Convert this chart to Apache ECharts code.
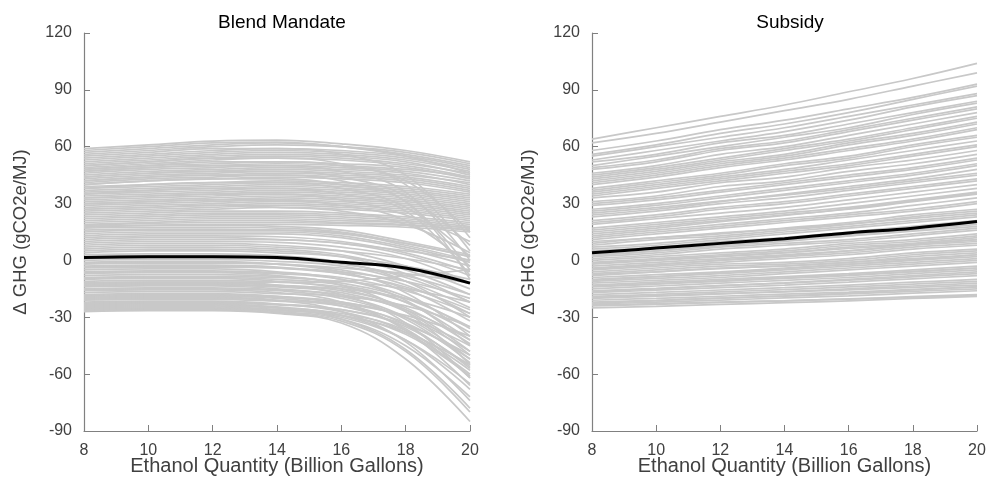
<!DOCTYPE html>
<html>
<head>
<meta charset="utf-8">
<script src="https://cdn.jsdelivr.net/npm/echarts@6/dist/echarts.min.js"></script>
<style>
html,body{margin:0;padding:0;background:#fff;}
#chart{width:992px;height:479px;}
</style>
</head>
<body>
<div id="chart"></div>
<script>
// Ethanol quantity (billion gallons) sample points
var xValues = [8, 10, 12, 14, 16, 18, 20];
var xTicks = [8, 10, 12, 14, 16, 18, 20];
var yTicks = [-90, -60, -30, 0, 30, 60, 90, 120];
var panelTitles = ['Blend Mandate', 'Subsidy'];
var xAxisTitle = 'Ethanol Quantity (Billion Gallons)';
var yAxisTitle = '\u0394 GHG (gCO2e/MJ)';

// Blend Mandate: simulated ΔGHG draws (gCO2e/MJ), values at xValues
var blendUpper = [
  [59,61,63,63.5,61.5,58,52],
  [58,60,62,62.5,60,55,46],
  [57,59,61,62,60,56,50],
  [56,58,60,61,60,57,51],
  [54,56,58,59,58,55,49],
  [53,55,57,58,57,54,48],
  [52,54,56,57,56,53,47],
  [51,53,55,56,55,52,45],
  [50,52,54,55,54,51,46],
  [49,51,53,54,53,50,44],
  [48,50,51,52,51,49,43],
  [47,49,50,51,50,48,44],
  [46,48,49,50,49,47,42],
  [45,47,48,49,48,46,40],
  [44,46,47,48,47,45,41],
  [43,45,46,47,46,44,39],
  [42,44,45,46,45,43,38],
  [41,43,44,45,44,42,37],
  [40,42,43,44,43,41,36],
  [39,40,41,42,41,39,35],
  [38,39,40,41,40,38,34],
  [37,38,39,40,39,37,33],
  [36,37,38,39,38,36,32],
  [35,36,37,38,37,35,31],
  [34,35,36,37,36,34,30],
  [33,34,35,36,35,33,29],
  [32,33,34,35,34,32,28],
  [31,32,33,34,33,31,27],
  [30,31,32,33,32,30,26],
  [29,30,31,32,31,29,25],
  [28,29,30,31,30,28,24],
  [27,28,29,30,29,27,23],
  [26,27,28,29,28,26,22],
  [25,26,27,28,27,25,21],
  [24,25,26,26,25,23,20],
  [23,24,25,25,24,22,19],
  [22,23,24,24,23,21,18],
  [21,22,23,23,22,20,17],
  [20,21,22,22,21,20,17],
  [19,20,21,21,20,19,16],
  [18.5,19.5,20,20,19.5,18.5,16],
  [17.5,18.5,19,19,18.5,17.5,15]
];
var blendPlunge = [
  [55,57,59,59,56,45,12],
  [50,52,54,54,51,40,5],
  [47,49,50,50,47,36,0],
  [44,46,47,47,44,34,8],
  [42,44,45,45,42,31,-5],
  [38,40,41,41,38,28,2],
  [35,37,38,38,35,26,-8],
  [33,34,35,35,32,24,10],
  [30,31,32,32,29,21,-3],
  [27,28,29,28,26,19,4],
  [48,50,52,52,50,42,15],
  [40,42,43,43,40,31,-10]
];
var blendLower = [
  [18,18.5,18.5,18,16,10,3],
  [17,17.5,17.5,17,15,9,2],
  [16,16.5,16.5,16,14.5,8,0],
  [15,16,16,16,14,9,2],
  [14,15,15,15,13,7,-1],
  [13,14,14,14,12,6,-3],
  [12,13,13,12.5,10,4,-6],
  [11,12,12,11,9,3,-8],
  [10,11,11,11,9,5,0],
  [9,10,10,9.5,7,1,-12],
  [8,9,9,8,5,-3,-15],
  [7,8,8,7,5,1,-5],
  [6,7,7,6,3,-5,-18],
  [5,6,6,5,2,-7,-22],
  [4,5,5,4,2,-3,-10],
  [3,3.5,3.5,2.5,-1,-11,-30],
  [2,2.5,2.5,1.5,-1.5,-9,-22],
  [1,1.5,1.5,1,-2,-8,-18],
  [0,0.5,0.5,-0.5,-3,-11,-25],
  [-1,-0.5,-0.5,-2,-6,-17,-40],
  [-1.5,-1,-1,-2,-5,-13,-28],
  [-2,-1.5,-1.5,-2,-4,-7,-12],
  [-3,-2.5,-2.5,-3.5,-7,-15,-32],
  [-3.5,-3,-3,-4,-7,-14,-26],
  [-4,-3.5,-3.5,-4,-6,-11,-20],
  [-5,-4.5,-4.5,-6,-10,-21,-45],
  [-6,-5.5,-5.5,-6.5,-9,-16,-28],
  [-6.5,-6,-6,-7,-10,-19,-36],
  [-7,-6.5,-6.5,-8,-13,-27,-55],
  [-8,-7.5,-7.5,-8.5,-12,-20,-35],
  [-9,-8.5,-8.5,-9,-11,-15,-22],
  [-9.5,-9,-9,-10,-13,-22,-42],
  [-10,-9.5,-9.5,-11,-15,-26,-48],
  [-11,-10.5,-10.5,-11.5,-14,-22,-38],
  [-12,-11.5,-11.5,-13,-18,-33,-62],
  [-12,-11.5,-11.5,-11.5,-11,-8,-5],
  [-12.5,-12,-12,-13,-16,-25,-44],
  [-13,-12.5,-12.5,-13.5,-15,-20,-30],
  [-13.5,-13,-13,-14,-17,-27,-50],
  [-14,-13.5,-13.5,-15,-19,-30,-52],
  [-15,-14.5,-14.5,-15.5,-18,-26,-42],
  [-15.5,-15,-15,-16,-20,-31,-54],
  [-16,-15.5,-15.5,-17,-22,-37,-66],
  [-17,-16.5,-16.5,-17.5,-19,-24,-35],
  [-18,-17.5,-17.5,-19,-23,-34,-57],
  [-18.5,-18,-18,-19,-22,-30,-48],
  [-19,-18.5,-18.5,-19.5,-22,-30,-45],
  [-19.5,-19,-19,-20,-24,-36,-62],
  [-20,-19.5,-19.5,-21,-27,-43,-74],
  [-20.5,-20,-20,-21,-24,-33,-52],
  [-21,-20.5,-20.5,-21.5,-23,-29,-40],
  [-22,-21.5,-21.5,-23,-27,-38,-60],
  [-22.5,-22,-22,-23,-26,-35,-56],
  [-23,-22.5,-22.5,-23.5,-26,-34,-50],
  [-23.5,-23,-23,-24.5,-29,-42,-68],
  [-24,-23.5,-23.5,-25,-31,-47,-78],
  [-24.5,-24,-24,-25,-28,-37,-58],
  [-25,-24.5,-24.5,-26,-30,-42,-65],
  [-25.5,-25,-25,-26,-29,-39,-61],
  [-26,-25.5,-25.5,-26.5,-29,-38,-55],
  [-26,-25.5,-25.5,-27,-31,-45,-72],
  [-26.5,-26,-26,-27.5,-32,-48,-80],
  [-27,-26.5,-26.5,-28,-33,-52,-85]
];
var blendMean = [1.5, 2, 2, 1.5, -1, -4, -12];

// Subsidy: simulated ΔGHG draws (gCO2e/MJ), values at xValues
var subsidyLines = [
  [64,70,76,82,89,96,104],
  [62,67,73,79,85,92,99],
  [58,63,69,74,80,86,93],
  [56,61,67,72,78,85,92],
  [55,60,65,70,76,82,88],
  [53,58,63,68,74,81,87],
  [52,56,62,66,72,78,84],
  [50,55,60,65,70,77,83],
  [49,53,59,63,69,75,81],
  [48,52,58,62,68,74,80],
  [46,50,56,60,66,72,78],
  [45,49,54,59,64,70,76],
  [44,48,53,58,63,69,75],
  [43,47,52,56,62,67,73],
  [42,46,51,55,61,66,72],
  [41,45,50,54,59,64,70],
  [40,44,49,53,58,63,69],
  [38,42,46,51,55,61,66],
  [37,41,45,50,54,60,65],
  [36,40,44,48,53,58,63],
  [35,39,43,47,51,56,61],
  [34,38,42,46,50,55,60],
  [33,36,41,44,49,53,58],
  [31,34,39,42,47,51,56],
  [30,33,37,41,45,49,54],
  [29,32,36,40,44,48,53],
  [27,30,34,38,42,46,51],
  [26,29,33,37,41,45,50],
  [25,27.9,31.3,34.5,38,42,46],
  [24,27,31,35,39,43,48],
  [23,26,30,33,37,41,45],
  [21,24,28,31,35,39,43],
  [20,23,27,30,34,38,42],
  [19,22,25,28,32,36,40],
  [17,20,23,26,30,34,38],
  [16,19,22,25,28,32,36],
  [15,18,21,24,27,31,35],
  [14,17,20.5,23.7,27.3,31.4,35.5],
  [13,16,19,22,25,29,33],
  [12,15,18,21,24,27,31],
  [11,14,17,20,23,26,30],
  [10,12,14.5,16.8,19.3,22.2,25],
  [9,12,14,17,20,24,27],
  [8,11,13,16,19,23,26],
  [7,9,12,15,18,21,24],
  [6,8,11,14,17,20,23],
  [5,7,10,12,15,18,21],
  [4.5,6.4,8.6,10.6,12.9,15.4,18],
  [3,5,8,10,13,16,19],
  [2.5,5,7.8,10.4,13.4,16.7,20],
  [2,4,7,9,11,14,17],
  [1,3,6,8,10,13,16],
  [0,2,4,6,9,11,14],
  [-1,1,3,5,8,10,13],
  [-1.5,0.3,2.3,4.1,6.3,8.6,11],
  [-2,0,2,4,7,9,12],
  [-3,-1,1,3,5,8,10],
  [-4,-2,0,2,4,7,9],
  [-4.5,-2.3,0.2,2.5,5.1,8.1,11],
  [-5,-3,-1,1,3,6,8],
  [-6,-4,-2,-1,1,4,6],
  [-7,-5,-3,-2,0,3,5],
  [-7.5,-6,-4.3,-2.8,-1,1,3],
  [-8,-6,-4,-3,-1,2,4],
  [-9,-7.5,-6,-4,-2,0,2],
  [-10,-8.5,-7,-5,-3,-1,1],
  [-10.5,-8.6,-6.4,-4.4,-2.1,0.4,3],
  [-11,-9.5,-8,-6,-4,-2,0],
  [-12,-10.5,-9,-7,-5,-3,-1],
  [-13,-11.5,-10,-8.5,-7,-5,-3],
  [-13.5,-12.2,-10.6,-9.2,-7.6,-5.8,-4],
  [-14,-12.5,-11,-9.5,-8,-6,-4],
  [-15,-13.5,-12,-10.5,-9,-7,-5],
  [-16,-14.7,-13.3,-12,-10.4,-8.7,-7],
  [-16.5,-15,-13.3,-11.8,-10,-8,-6],
  [-17,-15.7,-14.3,-13,-11.4,-9.7,-8],
  [-18,-16.9,-15.6,-14.4,-13,-11.5,-10],
  [-19,-17.9,-16.6,-15.4,-14,-12.5,-11],
  [-19.5,-18.6,-17.5,-16.6,-15.5,-14.2,-13],
  [-20,-18.9,-17.6,-16.4,-15,-13.5,-12],
  [-21,-20,-18.9,-17.8,-16.7,-15.3,-14],
  [-22,-21,-19.9,-18.8,-17.7,-16.3,-15],
  [-22.5,-21.3,-19.9,-18.7,-17.2,-15.6,-14],
  [-23,-22,-20.9,-19.8,-18.7,-17.3,-16],
  [-23.5,-22.8,-22,-21.3,-20.4,-19.5,-18.5],
  [-24,-23.2,-22.2,-21.3,-20.3,-19.1,-18],
  [-25,-24.2,-23.2,-22.3,-21.3,-20.1,-19]
];
var subsidyMean = [4, 6.5, 9, 11.5, 14.5, 17, 20.5];

var GRAY = '#c8c8c8';
var FONT = '"Liberation Sans", Arial, Helvetica, sans-serif';

function toPoints(vals) {
  return xValues.map(function (x, i) { return [x, vals[i]]; });
}
function graySeries(lines, idx) {
  return lines.map(function (vals) {
    return {
      type: 'line', xAxisIndex: idx, yAxisIndex: idx,
      data: toPoints(vals), symbol: 'none', smooth: 0.4, silent: true,
      lineStyle: { color: GRAY, width: 1.7 }, z: 2
    };
  });
}
function meanSeries(vals, idx) {
  return {
    type: 'line', xAxisIndex: idx, yAxisIndex: idx,
    data: toPoints(vals), symbol: 'none', smooth: 0.4, silent: true,
    lineStyle: { color: '#000', width: 3 }, z: 5
  };
}

var grids = [
  { left: 84, top: 33, width: 386, height: 398, outerBoundsMode: 'none', containLabel: false },
  { left: 592, top: 33, width: 385, height: 398, outerBoundsMode: 'none', containLabel: false }
];

function xAxisCfg(idx) {
  return {
    type: 'value', gridIndex: idx, min: xTicks[0], max: xTicks[xTicks.length - 1], interval: 2,
    name: xAxisTitle, nameLocation: 'middle', nameGap: 25, nameMoveOverlap: false,
    nameTextStyle: { fontFamily: FONT, fontSize: 20, color: '#404040' },
    axisLine: { onZero: false, lineStyle: { color: '#808080', width: 1.2 } },
    axisTick: { inside: true, length: 6, lineStyle: { color: '#808080' } },
    axisLabel: { fontFamily: FONT, fontSize: 16, color: '#404040', margin: 12 },
    splitLine: { show: false }
  };
}
function yAxisCfg(idx) {
  return {
    type: 'value', gridIndex: idx, min: yTicks[0], max: yTicks[yTicks.length - 1], interval: 30,
    name: yAxisTitle, nameLocation: 'middle', nameGap: 54, nameRotate: 90, nameMoveOverlap: false,
    nameTextStyle: { fontFamily: FONT, fontSize: 18.5, color: '#404040' },
    axisLine: { show: true, onZero: false, lineStyle: { color: '#808080', width: 1.2 } },
    axisTick: { show: true, inside: true, length: 6, lineStyle: { color: '#808080' } },
    axisLabel: { fontFamily: FONT, fontSize: 16, color: '#404040', margin: 12 },
    splitLine: { show: false }
  };
}

var series = []
  .concat(graySeries(blendUpper, 0))
  .concat(graySeries(blendPlunge, 0))
  .concat(graySeries(blendLower, 0))
  .concat([meanSeries(blendMean, 0)])
  .concat(graySeries(subsidyLines, 1))
  .concat([meanSeries(subsidyMean, 1)]);

var chart = echarts.init(document.getElementById('chart'), null, { renderer: 'canvas' });
chart.setOption({
  animation: false,
  backgroundColor: '#fff',
  title: [
    { text: panelTitles[0], left: 277, top: 8, textAlign: 'center',
      textStyle: { fontFamily: FONT, fontSize: 19, fontWeight: 'normal', color: '#000' } },
    { text: panelTitles[1], left: 785, top: 8, textAlign: 'center',
      textStyle: { fontFamily: FONT, fontSize: 19, fontWeight: 'normal', color: '#000' } }
  ],
  grid: grids,
  xAxis: [xAxisCfg(0), xAxisCfg(1)],
  yAxis: [yAxisCfg(0), yAxisCfg(1)],
  series: series
});
</script>
</body>
</html>
